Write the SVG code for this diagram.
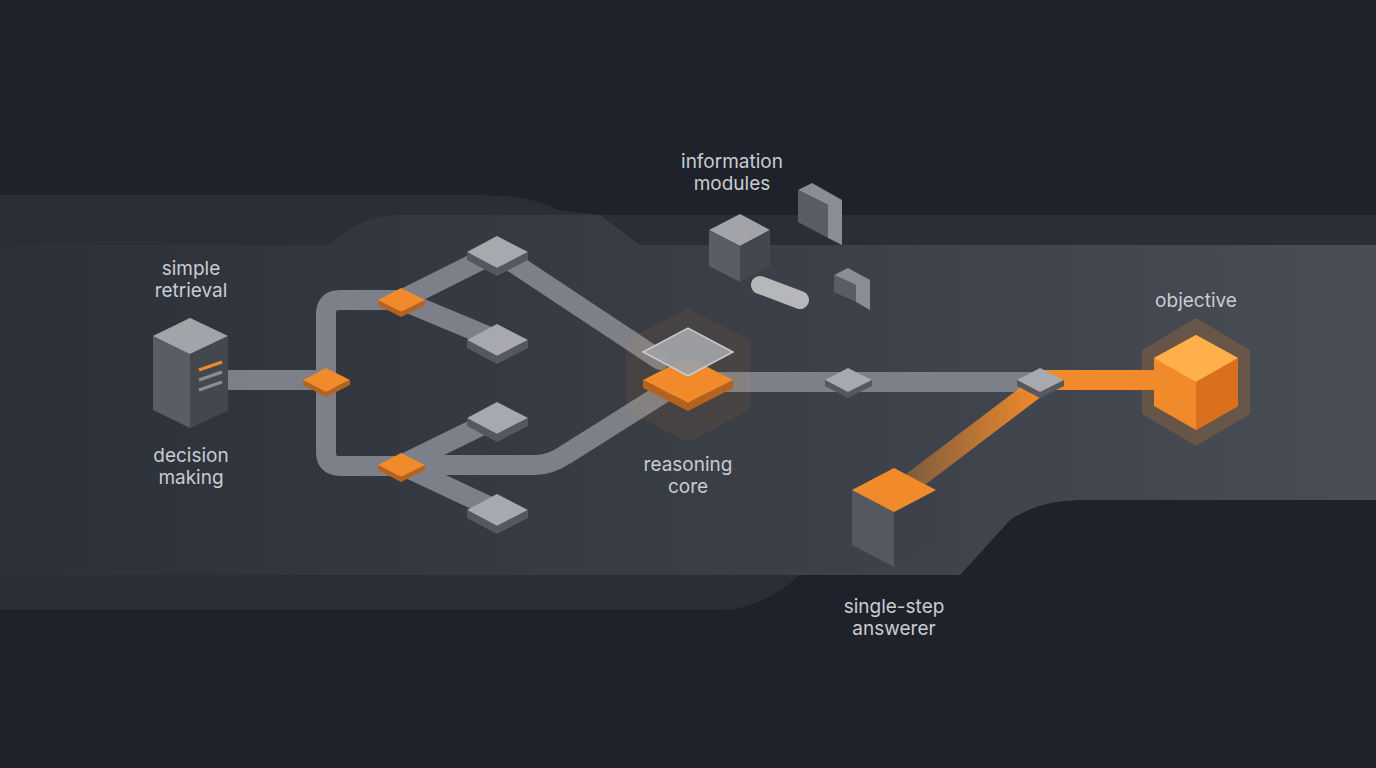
<svg xmlns="http://www.w3.org/2000/svg" width="1376" height="768" viewBox="0 0 1376 768">
<defs>
<linearGradient id="band" x1="0" x2="1" y1="0" y2="0"><stop offset="0" stop-color="#2c3039"/><stop offset="0.6" stop-color="#3c4048"/><stop offset="1" stop-color="#4a4d55"/></linearGradient>
<linearGradient id="orangeTrack" x1="0" x2="1"><stop offset="0" stop-color="#f08a2a" stop-opacity="0.3"/><stop offset="1" stop-color="#f08a2a"/></linearGradient>
<style>
.lbl{font-family:"Inter","Liberation Sans",sans-serif;font-size:19px;fill:#c9ccd2;text-anchor:middle}
.trk{stroke:#7d8089;stroke-width:20;fill:none;stroke-linecap:round;stroke-linejoin:round}
.gt{fill:#a7a9ae}.gs{fill:#55585f}
.ot{fill:#f08a2a}.os{fill:#b5621c}
</style>
</defs>
<rect width="1376" height="768" fill="#1f222b"/>
<path d="M0 195 H480 Q530 195 560 210 L600 215 H1376 V500 H1080 Q1040 500 1010 520 L960 575 H800 Q760 610 720 610 H0 Z" fill="#2a2e37"/>
<path d="M0 245 H330 Q360 215 400 215 H600 L640 245 H1376 V500 H1080 Q1040 500 1010 520 L960 575 H0 Z" fill="url(#band)"/>
<g id="connectors">
<path class="trk" d="M230 380 H326"/>
<path class="trk" d="M401 300 H340 Q326 300 326 314 V452 Q326 466 340 466 H401"/>
<path class="trk" d="M401 300 L497 252 M401 300 L497 340 M401 465 L497 418 M401 465 L497 510"/>
<path class="trk" d="M401 465 H535 Q550 465 565 455 L665 392"/>
<path class="trk" d="M497 252 L660 360"/>
<path class="trk" d="M700 382 H1040" stroke="#9a9da4"/>
<path d="M1040 380 H1165" stroke="#f08a2a" stroke-width="20"/>
<path d="M1040 385 L895 495" stroke="url(#orangeTrack)" stroke-width="20"/>
<path d="M760 285 L800 300" stroke="#b5b7bb" stroke-width="18" stroke-linecap="round"/>
</g>
<g id="server">
<path d="M153 336 L190 318 L228 336 V410 L190 428 L153 410 Z" fill="#5a5d64"/>
<path d="M153 336 L190 354 L228 336 L190 318 Z" fill="#a2a4a9"/>
<path d="M190 354 L228 336 V410 L190 428 Z" fill="#44474e"/>
<path d="M199 370 L222 362" stroke="#f08a2a" stroke-width="3"/>
<path d="M199 380 L222 372 M199 390 L222 382" stroke="#8a8d93" stroke-width="3"/>
</g>
<g id="d-left"><path d="M303 380 L326 368 L350 380 L326 392 Z" class="ot"/><path d="M303 380 L326 392 L350 380 V385 L326 397 L303 385 Z" class="os"/></g>
<g id="d-top"><path d="M378 300 L401 288 L425 300 L401 312 Z" class="ot"/><path d="M378 300 L401 312 L425 300 V305 L401 317 L378 305 Z" class="os"/></g>
<g id="d-bot"><path d="M378 465 L401 453 L425 465 L401 477 Z" class="ot"/><path d="M378 465 L401 477 L425 465 V470 L401 482 L378 470 Z" class="os"/></g>
<g id="g1"><path d="M467 252 L497 236 L528 252 L497 268 Z" class="gt"/><path d="M467 252 L497 268 L528 252 V260 L497 276 L467 260 Z" class="gs"/></g>
<g id="g2"><path d="M467 340 L497 324 L528 340 L497 356 Z" class="gt"/><path d="M467 340 L497 356 L528 340 V348 L497 364 L467 348 Z" class="gs"/></g>
<g id="g3"><path d="M467 418 L497 402 L528 418 L497 434 Z" class="gt"/><path d="M467 418 L497 434 L528 418 V426 L497 442 L467 426 Z" class="gs"/></g>
<g id="g4"><path d="M467 510 L497 494 L528 510 L497 526 Z" class="gt"/><path d="M467 510 L497 526 L528 510 V518 L497 534 L467 518 Z" class="gs"/></g>
<g id="core">
<path d="M688 308 L750 340 V410 L688 442 L626 410 V340 Z" fill="#f08a2a" opacity="0.08"/>
<path d="M643 380 L688 357 L733 380 L688 403 Z" class="ot"/><path d="M643 380 L688 403 L733 380 V388 L688 411 L643 388 Z" class="os"/>
<path d="M643 352 L688 328 L733 352 L688 376 Z" fill="#9fa1a6" stroke="#d0d2d6" stroke-width="1.5" opacity="0.95"/>
</g>
<g id="m1"><path d="M825 380 L848 368 L872 380 L848 392 Z" class="gt"/><path d="M825 380 L848 392 L872 380 V386 L848 398 L825 386 Z" class="gs"/></g>
<g id="m2"><path d="M1017 380 L1040 368 L1064 380 L1040 392 Z" class="gt"/><path d="M1017 380 L1040 392 L1064 380 V386 L1040 398 L1017 386 Z" class="gs"/></g>
<g id="info">
<path d="M709 230 L740 214 L770 230 L740 246 Z" fill="#a2a4a9"/><path d="M709 230 L740 246 V282 L709 266 Z" fill="#5a5d64"/><path d="M740 246 L770 230 V266 L740 282 Z" fill="#44474e"/>
<path d="M798 190 L812 183 L842 200 V245 L828 238 V205 Z" fill="#8a8d93"/><path d="M798 190 L828 205 V238 L798 222 Z" fill="#5a5d64"/>
<path d="M834 275 L848 268 L870 280 V310 L856 302 V285 Z" fill="#8a8d93"/><path d="M834 275 L856 285 V302 L834 292 Z" fill="#5a5d64"/>
</g>
<g id="answerer">
<path d="M852 490 L894 468 L936 490 V545 L894 567 L852 545 Z" fill="#55585f"/>
<path d="M894 512 L936 490 V545 L894 567 Z" fill="#3e4148"/>
<path d="M852 490 L894 468 L936 490 L894 512 Z" class="ot"/>
</g>
<g id="objective">
<path d="M1196 318 L1250 350 V414 L1196 446 L1142 414 V350 Z" fill="#f08a2a" opacity="0.2"/>
<path d="M1196 335 L1238 358 V406 L1196 430 L1154 406 V358 Z" fill="#f08a2a"/>
<path d="M1154 358 L1196 335 L1238 358 L1196 382 Z" fill="#ffb04a"/>
<path d="M1196 382 L1238 358 V406 L1196 430 Z" fill="#d8701c"/>
</g>
<g id="labels">
<text class="lbl" x="191" y="275">simple</text><text class="lbl" x="191" y="297">retrieval</text>
<text class="lbl" x="191" y="462">decision</text><text class="lbl" x="191" y="484">making</text>
<text class="lbl" x="732" y="168">information</text><text class="lbl" x="732" y="190">modules</text>
<text class="lbl" x="688" y="471">reasoning</text><text class="lbl" x="688" y="493">core</text>
<text class="lbl" x="1196" y="307">objective</text>
<text class="lbl" x="894" y="613">single-step</text><text class="lbl" x="894" y="635">answerer</text>
</g>
</svg>
